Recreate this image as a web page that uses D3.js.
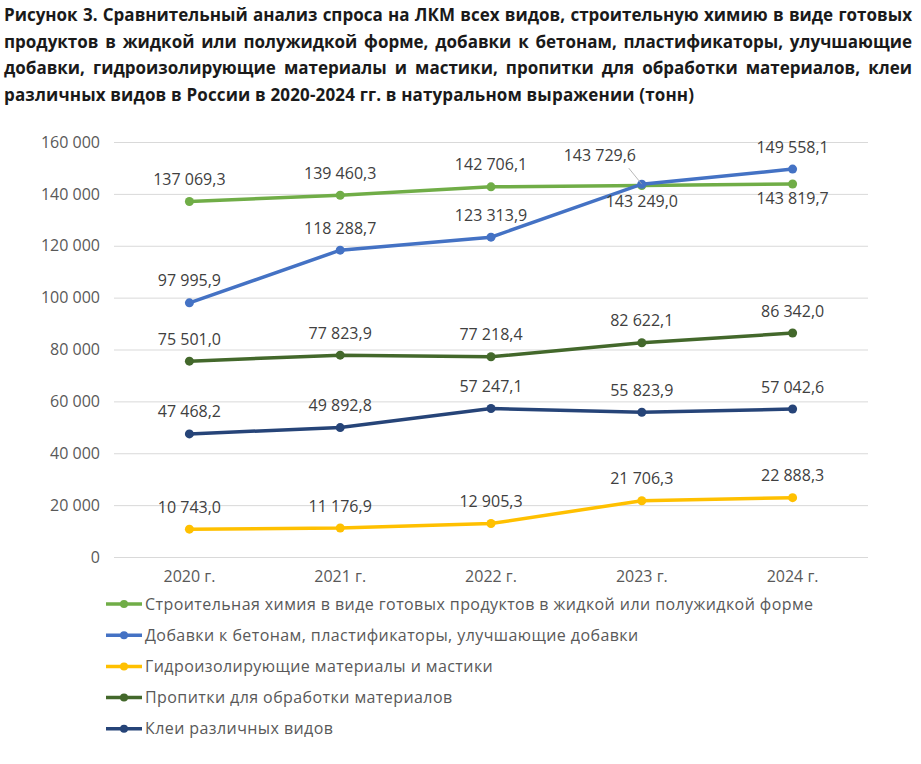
<!DOCTYPE html>
<html>
<head>
<meta charset="utf-8">
<script src="https://cdn.jsdelivr.net/npm/d3@7"></script>
<style>
    body { margin: 0; background: #fff; font-family: "Open Sans", "Noto Sans", sans-serif; }
    #chart { position: relative; width: 921px; height: 764px; }
    #title { position: absolute; left: 4px; top: 2px; width: 908px; font-weight: 700; font-size: 17px; color: #1a1a1a; line-height: 26.7px; }
    #title div { text-align: justify; text-align-last: justify; white-space: nowrap; }
    #title div.last { text-align-last: left; letter-spacing: 0.15px; }
    svg { position: absolute; left: 0; top: 0; }
</style>
</head>
<body>
<div id="chart"></div>
<script>
// title lines (kept as in the original figure)
const titleLines = [
    "Рисунок 3. Сравнительный анализ спроса на ЛКМ всех видов, строительную химию в виде готовых",
    "продуктов в жидкой или полужидкой форме, добавки к бетонам, пластификаторы, улучшающие",
    "добавки, гидроизолирующие материалы и мастики, пропитки для обработки материалов, клеи",
    "различных видов в России в 2020-2024 гг. в натуральном выражении (тонн)"
];

const years = ["2020 г.", "2021 г.", "2022 г.", "2023 г.", "2024 г."];
const yTicks = [0, 20000, 40000, 60000, 80000, 100000, 120000, 140000, 160000];

const seriesNames = [
    "Строительная химия в виде готовых продуктов в жидкой или полужидкой форме",
    "Добавки к бетонам, пластификаторы, улучшающие добавки",
    "Гидроизолирующие материалы и мастики",
    "Пропитки для обработки материалов",
    "Клеи различных видов"
];
const seriesColors = ["#70ad47", "#4472c4", "#ffc000", "#43682b", "#264478"];

const buildChem = [137069.3, 139460.3, 142706.1, 143249.0, 143819.7];
const additives = [97995.9, 118288.7, 123313.9, 143729.6, 149558.1];
const waterproof = [10743.0, 11176.9, 12905.3, 21706.3, 22888.3];
const impregnation = [75501.0, 77823.9, 77218.4, 82622.1, 86342.0];
const adhesives = [47468.2, 49892.8, 57247.1, 55823.9, 57042.6];

const seriesValues = [buildChem, additives, waterproof, impregnation, adhesives];

// labels that are not placed straight above their point: [series, year, dx, dy]
const labelMoves = [[0, 3, 0, 16], [0, 4, 0, 14], [1, 3, -42, -29]];

class LineChart {
    constructor(_parentElement) {
        this.parentElement = _parentElement;
        this.initVis();
    }

    initVis() {
        const vis = this;

        d3.select(vis.parentElement).append("div").attr("id", "title")
            .selectAll("div").data(titleLines).enter().append("div")
            .attr("class", (d, i) => i === titleLines.length - 1 ? "last" : null)
            .text(d => d);

        vis.margin = { top: 142, left: 114, right: 53 };
        vis.width = 921 - vis.margin.left - vis.margin.right;
        vis.height = 557 - vis.margin.top;

        vis.svgRoot = d3.select(vis.parentElement).append("svg")
            .attr("width", 921)
            .attr("height", 764);
        vis.svg = vis.svgRoot.append("g")
            .attr("transform", `translate(${vis.margin.left}, ${vis.margin.top})`);

        vis.x = d3.scaleBand().domain(years).range([0, vis.width]);
        vis.y = d3.scaleLinear().domain([0, 160000]).range([vis.height, 0]);

        vis.fmt = d3.formatLocale({ decimal: ",", thousands: "\u00a0", grouping: [3], currency: ["", ""] });

        vis.updateVis();
    }

    updateVis() {
        const vis = this;
        const cx = d => vis.x(d) + vis.x.bandwidth() / 2;

        // grid + y axis
        const yAxis = d3.axisLeft(vis.y).tickValues(yTicks)
            .tickSize(-vis.width).tickPadding(14)
            .tickFormat(vis.fmt.format(",.0f"));
        const yg = vis.svg.append("g").attr("class", "y axis").call(yAxis);
        yg.select(".domain").remove();
        yg.selectAll(".tick line").attr("stroke", "#d9d9d9").attr("stroke-width", 1);
        yg.selectAll(".tick text").attr("fill", "#595959").attr("font-size", 16)
            .attr("font-family", "Open Sans").attr("x", -14);

        // x axis
        const xAxis = d3.axisBottom(vis.x).tickSize(0).tickPadding(14);
        const xg = vis.svg.append("g").attr("class", "x axis")
            .attr("transform", `translate(0,${vis.height})`).call(xAxis);
        xg.select(".domain").remove();
        xg.selectAll(".tick text").attr("fill", "#595959").attr("font-size", 16)
            .attr("font-family", "Open Sans");

        const line = d3.line().x((d, i) => cx(years[i])).y(d => vis.y(d));

        // draw order so the first series sit on top like in the figure
        const order = [2, 4, 3, 0, 1];
        order.forEach(s => {
            const vals = seriesValues[s];
            const g = vis.svg.append("g").attr("class", "series");
            g.append("path").datum(vals)
                .attr("d", line)
                .attr("fill", "none")
                .attr("stroke", seriesColors[s])
                .attr("stroke-width", 3.5)
                .attr("stroke-linecap", "round");
            g.selectAll(".dot").data(vals).enter().append("circle")
                .attr("class", "dot")
                .attr("cx", (d, i) => cx(years[i]))
                .attr("cy", d => vis.y(d))
                .attr("r", 4.5)
                .attr("fill", seriesColors[s]);
        });

        // data labels
        seriesValues.forEach((vals, s) => {
            vis.svg.selectAll(".lbl" + s).data(vals).enter().append("text")
                .attr("class", "lbl" + s)
                .attr("x", (d, i) => {
                    const m = labelMoves.find(m => m[0] === s && m[1] === i);
                    return cx(years[i]) + (m ? m[2] : 0);
                })
                .attr("y", (d, i) => {
                    const m = labelMoves.find(m => m[0] === s && m[1] === i);
                    return vis.y(d) + (m ? m[3] : -22);
                })
                .attr("dy", "0.35em")
                .attr("text-anchor", "middle")
                .attr("font-size", 16)
                .attr("fill", "#404040")
                .text(d => vis.fmt.format(",.1f")(d));
        });

        // leader line for the moved blue label in 2023
        const px = cx(years[3]), py = vis.y(additives[3]);
        vis.svg.append("line")
            .attr("x1", px - 13).attr("y1", py - 16)
            .attr("x2", px).attr("y2", py)
            .attr("stroke", "#a6a6a6").attr("stroke-width", 0.8);

        // legend
        const legend = vis.svgRoot.append("g").attr("transform", "translate(106, 604)");
        const items = legend.selectAll(".item").data(seriesNames).enter().append("g")
            .attr("class", "item")
            .attr("transform", (d, i) => `translate(0, ${i * 31.2})`);
        items.append("line")
            .attr("x1", 0).attr("x2", 36)
            .attr("stroke", (d, i) => seriesColors[i])
            .attr("stroke-width", 3.5);
        items.append("circle")
            .attr("cx", 18).attr("r", 4)
            .attr("fill", (d, i) => seriesColors[i]);
        items.append("text")
            .attr("x", 39).attr("dy", "0.35em")
            .attr("font-size", 16)
            .attr("letter-spacing", 0.42)
            .attr("fill", "#595959")
            .text(d => d);
    }
}

new LineChart("#chart");
</script>
</body>
</html>
